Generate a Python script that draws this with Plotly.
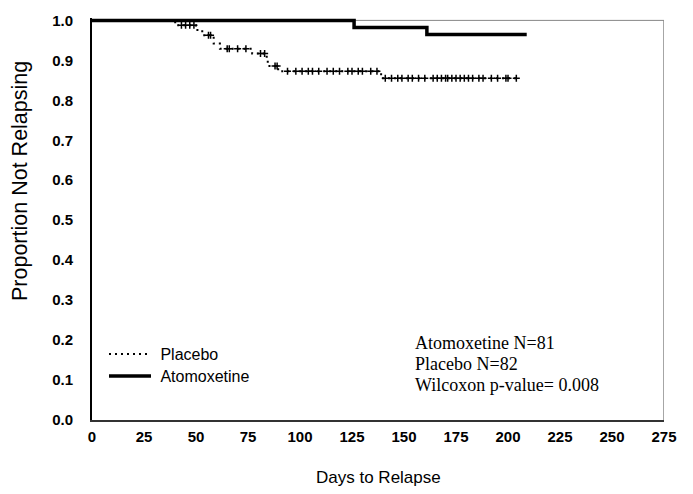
import plotly.graph_objects as go

# ---- data ----
placebo_days = [0, 40, 50, 53, 58.5, 61.5, 77, 84, 84.5, 89.5, 139, 205]
placebo_surv = [1.0, 0.988, 0.976, 0.963, 0.942, 0.929, 0.917, 0.902, 0.886, 0.873, 0.855, 0.855]

placebo_cens_days = [43, 45, 47, 49, 56, 57, 65, 66, 70, 74, 81, 83, 88, 89,
                     94, 98, 101, 104, 106, 109, 113, 116, 119, 123, 125, 128, 130, 134, 137,
                     141, 144, 147, 149, 152, 154, 157, 160, 164, 166, 168, 170, 171, 173,
                     175, 177, 179, 181, 183, 186, 188, 192, 195, 199, 200, 204]
placebo_cens_surv = [0.988, 0.988, 0.988, 0.988, 0.963, 0.963, 0.929, 0.929, 0.929, 0.929,
                     0.917, 0.917, 0.886, 0.886,
                     0.873, 0.873, 0.873, 0.873, 0.873, 0.873, 0.873, 0.873, 0.873, 0.873,
                     0.873, 0.873, 0.873, 0.873, 0.873,
                     0.855, 0.855, 0.855, 0.855, 0.855, 0.855, 0.855, 0.855, 0.855, 0.855,
                     0.855, 0.855, 0.855, 0.855, 0.855, 0.855, 0.855, 0.855, 0.855, 0.855,
                     0.855, 0.855, 0.855, 0.855, 0.855, 0.855]

atx_days = [0, 126, 161, 209]
atx_surv = [1.0, 0.982, 0.965, 0.965]

x_ticks = [0, 25, 50, 75, 100, 125, 150, 175, 200, 225, 250, 275]
y_ticks = [0.0, 0.1, 0.2, 0.3, 0.4, 0.5, 0.6, 0.7, 0.8, 0.9, 1.0]

stats_lines = ["Atomoxetine N=81", "Placebo N=82", "Wilcoxon p-value= 0.008"]

SANS = "Liberation Sans, Arial, sans-serif"
SERIF = "Liberation Serif, Times New Roman, serif"

# page offset compensation (page body margin)
OFF = 8
W, H = 693, 494
l, r, t, b = 92 - OFF, 29 + OFF, 18 - OFF, 74 + OFF
pw, ph = W - l - r, H - t - b


def px2paper(xs, ys):
    """convert screen pixel position to paper coords"""
    return (xs - OFF - l) / pw, (H - b - (ys - OFF)) / ph


fig = go.Figure()
fig.add_trace(go.Scatter(
    x=placebo_days, y=placebo_surv, mode="lines", line_shape="hv",
    line=dict(color="black", width=2, dash="2px,4px"), name="\u00a0Placebo",
    legend="legend"))
fig.add_trace(go.Scatter(
    x=placebo_cens_days, y=placebo_cens_surv, mode="markers", showlegend=False,
    marker=dict(symbol="cross-thin", size=5, line=dict(color="black", width=1.5)),
    hoverinfo="skip"))
fig.add_trace(go.Scatter(
    x=atx_days, y=atx_surv, mode="lines", line_shape="hv",
    line=dict(color="black", width=3.5), name="\u00a0Atomoxetine",
    legend="legend2"))

# grey top/right frame
fig.add_shape(type="line", xref="x", yref="y", x0=0, x1=275, y0=1.0, y1=1.0,
              line=dict(color="#888888", width=1), layer="below")
fig.add_shape(type="line", xref="x", yref="y", x0=275, x1=275, y0=0, y1=1.0,
              line=dict(color="#888888", width=1.5), layer="below")

for i, txt in enumerate(stats_lines):
    ax, ay = px2paper(413, 343 + 21 * i)
    fig.add_annotation(x=ax, xref="paper", y=ay, yref="paper",
                       text=txt, showarrow=False, xanchor="left", yanchor="middle",
                       font=dict(family=SERIF, size=18, color="black"))

ax, ay = px2paper(378, 478)
fig.add_annotation(x=ax, xref="paper", y=ay, yref="paper", text="Days to Relapse",
                   showarrow=False, xanchor="center", yanchor="middle",
                   font=dict(family=SANS, size=17, color="black"))
ax, ay = px2paper(20, 181)
fig.add_annotation(x=ax, xref="paper", y=ay, yref="paper", text="Proportion Not Relapsing",
                   showarrow=False, textangle=-90, xanchor="center", yanchor="middle",
                   font=dict(family=SANS, size=21.5, color="black"))

lx, ly1 = px2paper(104, 337)
_, ly2 = px2paper(104, 359)

leg_common = dict(xanchor="left", yanchor="top", bgcolor="rgba(0,0,0,0)",
                  font=dict(family=SANS, size=16, color="black"), itemwidth=42)

fig.update_layout(
    width=W, height=H,
    margin=dict(l=l, r=r, t=t, b=b),
    paper_bgcolor="white", plot_bgcolor="white",
    font=dict(family=SANS, color="black"),
    xaxis=dict(range=[0, 275], tickvals=x_ticks, ticktext=[str(v) for v in x_ticks],
               showgrid=False, zeroline=False, showline=True, linecolor="#333333",
               linewidth=2, ticks="", ticklabelstandoff=2, automargin=False,
               tickfont=dict(family=SANS, size=15, color="black", weight="bold")),
    yaxis=dict(range=[0, 1.006], tickvals=y_ticks, ticktext=[f"{v:.1f}" for v in y_ticks],
               showgrid=False, zeroline=False, showline=True, linecolor="black",
               linewidth=2, ticks="", ticklabelstandoff=14, automargin=False,
               tickfont=dict(family=SANS, size=15, color="black", weight="bold")),
    legend=dict(x=lx, y=ly1, **leg_common),
    legend2=dict(x=lx, y=ly2, **leg_common),
    showlegend=True,
)

fig.write_html("out.html")
